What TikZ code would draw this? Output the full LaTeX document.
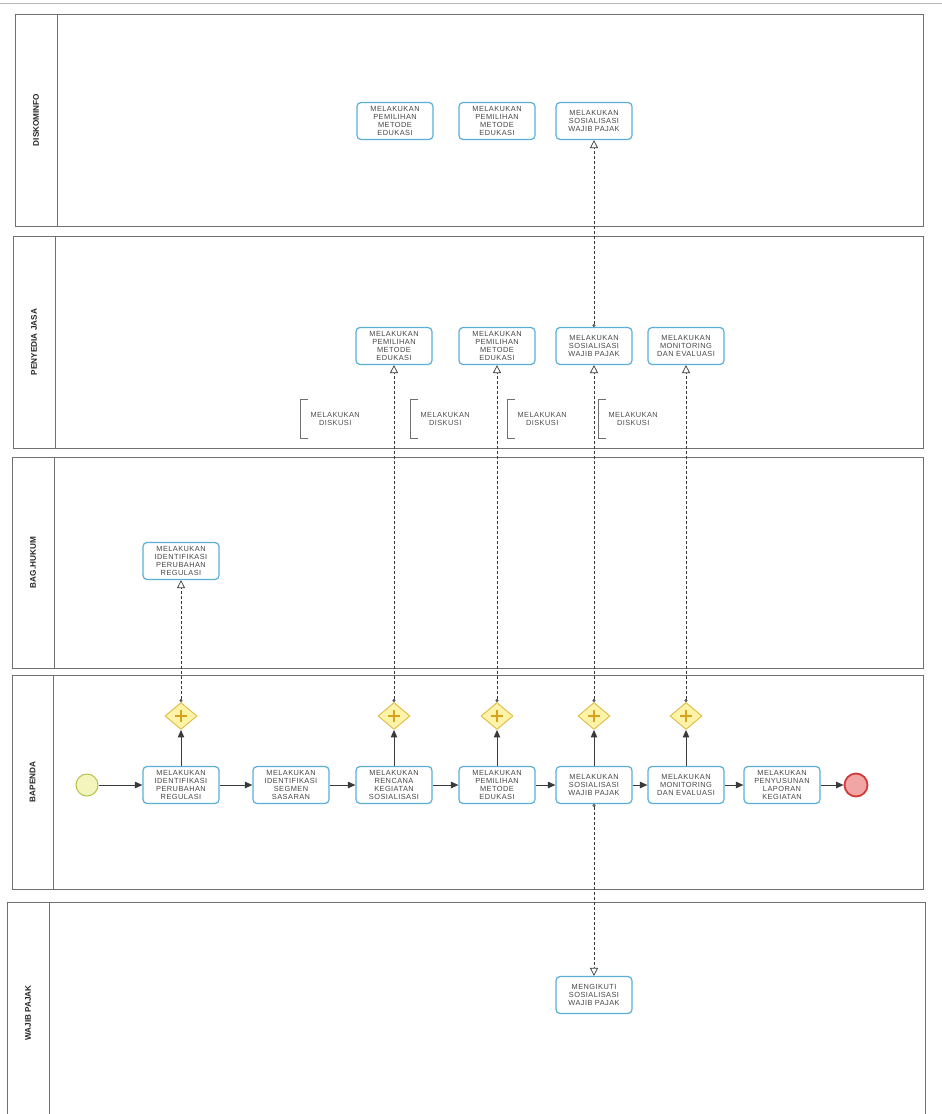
\documentclass[tikz,border=0pt]{standalone}
\usepackage{fontspec}
\setmainfont{Liberation Sans}
\newfontfamily\taskfont[LetterSpace=6]{Liberation Sans}
\usetikzlibrary{arrows.meta,shapes.geometric}

\definecolor{taskblue}{HTML}{5AAFD9}
\definecolor{gwfill}{HTML}{FFF3A8}
\definecolor{gwline}{HTML}{DDBB44}
\definecolor{gwplus}{HTML}{D9A21E}
\definecolor{endfill}{HTML}{F2A5A5}
\definecolor{endline}{HTML}{D23A3A}
\definecolor{startfill}{HTML}{F3F5BC}
\definecolor{startline}{HTML}{B3C248}
\definecolor{flowgray}{HTML}{3A3A3A}
\definecolor{lanegray}{HTML}{707070}

\begin{document}
\begin{tikzpicture}[x=1pt, y=-1pt,
	task/.style={draw=taskblue, line width=1.2pt, rounded corners=4pt, fill=white, minimum width=76pt, minimum height=37pt, inner sep=1pt, align=center, font=\taskfont\fontsize{7.4}{7.9}\selectfont, text=black!72},
	gate/.style={diamond, draw=gwline, fill=gwfill, line width=0.9pt, minimum width=32pt, minimum height=27pt, inner sep=0pt},
	flow/.style={draw=flowgray, line width=1pt, -{Triangle[length=7.5pt,width=6.5pt]}},
	msg/.style={draw=flowgray, densely dashed, line width=0.7pt, {Circle[open,length=3pt]}-{Triangle[open,length=8pt,width=8pt]}},
	lane/.style={draw=lanegray, line width=0.9pt},
	lanelabel/.style={rotate=90, font=\fontsize{8.2}{9}\selectfont\bfseries, text=black!85},
	notetext/.style={minimum width=70pt, minimum height=38pt, inner sep=0pt, align=center, font=\taskfont\fontsize{7.4}{7.9}\selectfont, text=black!70}]
	\useasboundingbox (0,0) rectangle (942,1114);
	\draw[gray!55, line width=1pt] (0,3) -- (942,3);
	% jalur (lanes)
	\foreach \l/\t/\b/\d/\lab/\i in {15/14/226/57/DISKOMINFO/1, 13/236/448/55/PENYEDIA JASA/2, 12/457/668/54/BAG.HUKUM/3, 12/675/889/53/BAPENDA/4}{
		\draw[lane] (\l,\t) rectangle (923,\b);
		\draw[lane] (\d,\t) -- (\d,\b);
		\node[lanelabel] (lane\i) at ({(\l+\d)/2},{(\t+\b)/2}) {\lab};
	}
	\draw[lane] (7,902) rectangle (925,1130);
	\draw[lane] (49,902) -- (49,1130);
	\node[lanelabel] (lane5) at (28,1013) {WAJIB PAJAK};
	% diskominfo
	\node[task] (dA) at (395,121) {MELAKUKAN\\PEMILIHAN\\METODE\\EDUKASI};
	\node[task] (dB) at (497,121) {MELAKUKAN\\PEMILIHAN\\METODE\\EDUKASI};
	\node[task] (dC) at (594,121) {MELAKUKAN\\SOSIALISASI\\WAJIB PAJAK};
	% penyedia jasa
	\node[task] (pA) at (394,346) {MELAKUKAN\\PEMILIHAN\\METODE\\EDUKASI};
	\node[task] (pB) at (497,346) {MELAKUKAN\\PEMILIHAN\\METODE\\EDUKASI};
	\node[task] (pC) at (594,346) {MELAKUKAN\\SOSIALISASI\\WAJIB PAJAK};
	\node[task] (pD) at (686,346) {MELAKUKAN\\MONITORING\\DAN EVALUASI};
	\foreach \x/\i in {300/1,410/2,507/3,598/4}{
		\node[notetext, anchor=west] (note\i) at (\x,419) {MELAKUKAN\\DISKUSI};
		\draw[lanegray, line width=0.9pt] ([xshift=8pt]note\i.north west) -- (note\i.north west) -- (note\i.south west) -- ([xshift=8pt]note\i.south west);
	}
	% bag. hukum
	\node[task] (hA) at (181,561) {MELAKUKAN\\IDENTIFIKASI\\PERUBAHAN\\REGULASI};
	% bapenda
	\node[circle, draw=startline, fill=startfill, line width=1pt, minimum size=22pt, inner sep=0pt] (start) at (87,785) {};
	\node[task] (b1) at (181,785) {MELAKUKAN\\IDENTIFIKASI\\PERUBAHAN\\REGULASI};
	\node[task] (b2) at (291,785) {MELAKUKAN\\IDENTIFIKASI\\SEGMEN\\SASARAN};
	\node[task] (b3) at (394,785) {MELAKUKAN\\RENCANA\\KEGIATAN\\SOSIALISASI};
	\node[task] (b4) at (497,785) {MELAKUKAN\\PEMILIHAN\\METODE\\EDUKASI};
	\node[task] (b5) at (594,785) {MELAKUKAN\\SOSIALISASI\\WAJIB PAJAK};
	\node[task] (b6) at (686,785) {MELAKUKAN\\MONITORING\\DAN EVALUASI};
	\node[task] (b7) at (782,785) {MELAKUKAN\\PENYUSUNAN\\LAPORAN\\KEGIATAN};
	\node[circle, draw=endline, fill=endfill, line width=1.8pt, minimum size=23pt, inner sep=0pt] (end) at (856,785) {};
	\foreach \g in {1,3,4,5,6}{
		\node[gate] (g\g) at ([yshift=69pt]b\g.center) {};
		\draw[gwplus, line width=2.2pt] ([xshift=-6pt]g\g.center) -- ([xshift=6pt]g\g.center);
		\draw[gwplus, line width=2.2pt] ([yshift=-6pt]g\g.center) -- ([yshift=6pt]g\g.center);
		\draw[flow] (b\g) -- (g\g);
	}
	% wajib pajak
	\node[task] (wA) at (594,995) {MENGIKUTI\\SOSIALISASI\\WAJIB PAJAK};
	% alur
	\draw[flow] (start) -- (b1);
	\foreach \a/\b in {b1/b2,b2/b3,b3/b4,b4/b5,b5/b6,b6/b7,b7/end}
		\draw[flow] (\a) -- (\b);
	% pesan
	\draw[msg] (g1) -- (hA);
	\draw[msg] (g3) -- (pA);
	\draw[msg] (g4) -- (pB);
	\draw[msg] (g5) -- (pC);
	\draw[msg] (g6) -- (pD);
	\draw[msg] (pC) -- (dC);
	\draw[msg] (b5) -- (wA);
\end{tikzpicture}
\end{document}
